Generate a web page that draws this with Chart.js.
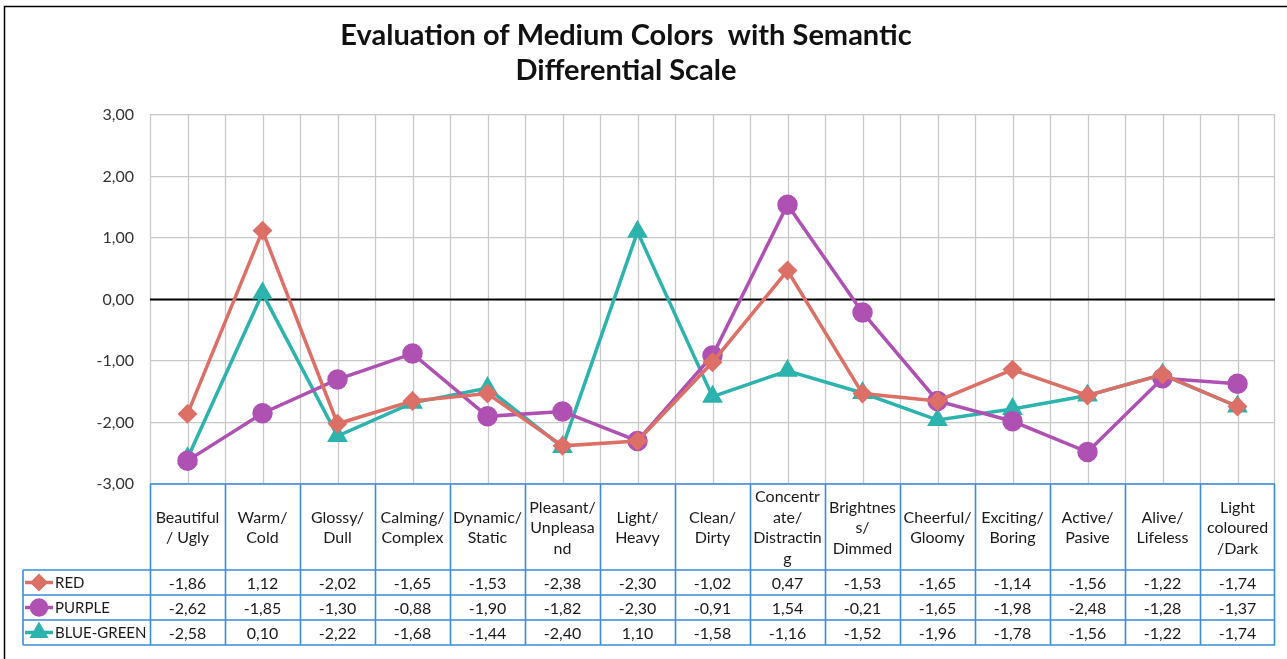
<!DOCTYPE html>
<html>
<head>
<meta charset="utf-8">
<script src="https://cdn.jsdelivr.net/npm/chart.js@4"></script>
<style>
  html, body { margin: 0; padding: 0; background: #fff; }
  #wrap { width: 1287px; height: 659px; position: relative; }
</style>
</head>
<body>
<div id="wrap"><canvas id="c" width="1287" height="659"></canvas></div>
<script>
// Semantic differential pairs (header lines as wrapped in the data table)
const categories = [
  ["Beautiful", "/ Ugly"],
  ["Warm/", "Cold"],
  ["Glossy/", "Dull"],
  ["Calming/", "Complex"],
  ["Dynamic/", "Static"],
  ["Pleasant/", "Unpleasa", "nd"],
  ["Light/", "Heavy"],
  ["Clean/", "Dirty"],
  ["Concentr", "ate/", "Distractin", "g"],
  ["Brightnes", "s/", "Dimmed"],
  ["Cheerful/", "Gloomy"],
  ["Exciting/", "Boring"],
  ["Active/", "Pasive"],
  ["Alive/", "Lifeless"],
  ["Light", "coloured", "/Dark"]
];

const seriesNames = ["RED", "PURPLE", "BLUE-GREEN"];
const redValues = [-1.86, 1.12, -2.02, -1.65, -1.53, -2.38, -2.30, -1.02, 0.47, -1.53, -1.65, -1.14, -1.56, -1.22, -1.74];
const purpleValues = [-2.62, -1.85, -1.30, -0.88, -1.90, -1.82, -2.30, -0.91, 1.54, -0.21, -1.65, -1.98, -2.48, -1.28, -1.37];
const blueGreenValues = [-2.58, 0.10, -2.22, -1.68, -1.44, -2.40, 1.10, -1.58, -1.16, -1.52, -1.96, -1.78, -1.56, -1.22, -1.74];

const yTicks = [-3, -2, -1, 0, 1, 2, 3];
const titleLines = ["Evaluation of Medium Colors  with Semantic", "Differential Scale"];

const seriesColors = ["#DC6F66", "#AF50B3", "#2DB3AD"];
const seriesMarkers = ["rectRot", "circle", "triangle"];
const seriesRadius = [7.5, 8.5, 8.5];

const FONT = "Lato, Calibri, 'Noto Sans', sans-serif";
const TABLE_BLUE = "#3D8CD6";

const fmt = v => v.toFixed(2).replace(".", ",");

const labels = categories.map(c => c.join(" "));
const valueSets = [redValues, purpleValues, blueGreenValues];

const datasets = valueSets.map((vals, i) => ({
  label: seriesNames[i],
  data: vals,
  borderColor: seriesColors[i],
  backgroundColor: seriesColors[i],
  pointBackgroundColor: seriesColors[i],
  pointBorderColor: seriesColors[i],
  pointStyle: seriesMarkers[i],
  pointRadius: seriesRadius[i],
  pointHoverRadius: seriesRadius[i],
  borderWidth: 3.5,
  tension: 0,
  fill: false
}));

// Frame, title, vertical grid and the zero line
const decorPlugin = {
  id: "decor",
  beforeDraw(chart) {
    const ctx = chart.ctx;
    ctx.save();
    ctx.fillStyle = "#fff";
    ctx.fillRect(0, 0, chart.width, chart.height);
    ctx.strokeStyle = "#000";
    ctx.lineWidth = 1.5;
    ctx.beginPath();
    ctx.moveTo(4.5, chart.height + 2);
    ctx.lineTo(4.5, 6.5);
    ctx.lineTo(chart.width + 2, 6.5);
    ctx.stroke();

    ctx.fillStyle = "#111";
    ctx.font = "bold 29px " + FONT;
    ctx.textAlign = "center";
    ctx.textBaseline = "middle";
    titleLines.forEach((t, i) => ctx.fillText(t, 626, 36 + i * 35));
    ctx.restore();
  },
  beforeDatasetsDraw(chart) {
    const ctx = chart.ctx;
    const x = chart.scales.x, y = chart.scales.y;
    const a = chart.chartArea;
    const half = (a.right - a.left) / categories.length / 2;
    ctx.save();
    ctx.strokeStyle = "#C8C8C8";
    ctx.lineWidth = 1.3;
    ctx.beginPath();
    categories.forEach((c, i) => {
      const cx = x.getPixelForValue(i);
      [cx - half, cx].forEach(px => {
        ctx.moveTo(Math.round(px) + 0.5, a.top);
        ctx.lineTo(Math.round(px) + 0.5, a.bottom);
      });
    });
    ctx.moveTo(Math.round(a.right) - 0.5, a.top);
    ctx.lineTo(Math.round(a.right) - 0.5, a.bottom);
    ctx.stroke();
    const zy = y.getPixelForValue(0);
    ctx.strokeStyle = "#000";
    ctx.lineWidth = 2;
    ctx.beginPath();
    ctx.moveTo(a.left, zy);
    ctx.lineTo(a.right, zy);
    ctx.stroke();
    ctx.restore();
  },
  afterDraw(chart) {
    const ctx = chart.ctx;
    const x = chart.scales.x;
    const a = chart.chartArea;
    const w = (a.right - a.left) / categories.length;
    const headTop = a.bottom, headBottom = 570;
    const rowH = 25;
    const legendLeft = 23;
    const rowTops = seriesNames.map((s, i) => headBottom + i * rowH);
    const tableBottom = headBottom + seriesNames.length * rowH;

    ctx.save();
    ctx.fillStyle = "#fff";
    ctx.fillRect(a.left, headTop + 1, a.right - a.left, tableBottom - headTop - 1);
    ctx.fillRect(legendLeft, headBottom, a.left - legendLeft, tableBottom - headBottom);

    // header text
    ctx.fillStyle = "#1a1a1a";
    ctx.font = "16px " + FONT;
    ctx.textAlign = "center";
    ctx.textBaseline = "middle";
    const lh = 20.5;
    categories.forEach((lines, i) => {
      const cx = x.getPixelForValue(i);
      const mid = (headTop + headBottom) / 2 + 1;
      const start = mid - (lines.length - 1) * lh / 2;
      lines.forEach((t, k) => ctx.fillText(t, cx, start + k * lh));
    });

    // values
    valueSets.forEach((vals, r) => {
      const cy = rowTops[r] + rowH / 2 + 1;
      vals.forEach((v, i) => ctx.fillText(fmt(v), x.getPixelForValue(i), cy));
    });

    // legend keys
    ctx.textAlign = "left";
    ctx.font = "15px " + FONT;
    seriesNames.forEach((name, r) => {
      const cy = rowTops[r] + rowH / 2;
      ctx.strokeStyle = seriesColors[r];
      ctx.lineWidth = 3.5;
      ctx.beginPath();
      ctx.moveTo(25, cy);
      ctx.lineTo(53, cy);
      ctx.stroke();
      Chart.helpers.drawPoint(ctx, {
        pointStyle: seriesMarkers[r],
        radius: seriesRadius[r] - 1,
        borderWidth: 1,
        rotation: 0
      }, 39, cy);
      ctx.fillStyle = seriesColors[r];
      ctx.fill();
      ctx.fillStyle = "#1a1a1a";
      ctx.fillText(name, 55, cy + 1);
    });

    // table borders
    ctx.strokeStyle = TABLE_BLUE;
    ctx.lineWidth = 1.6;
    ctx.beginPath();
    ctx.moveTo(a.left, headTop);
    ctx.lineTo(a.right, headTop);
    [headBottom, ...rowTops.slice(1), tableBottom].forEach(yy => {
      ctx.moveTo(legendLeft, yy);
      ctx.lineTo(a.right, yy);
    });
    for (let i = 0; i <= categories.length; i++) {
      const px = Math.round(a.left + i * w) + (i === categories.length ? -0.5 : 0.5);
      ctx.moveTo(px, headTop);
      ctx.lineTo(px, tableBottom);
    }
    ctx.moveTo(legendLeft, headBottom);
    ctx.lineTo(legendLeft, tableBottom);
    ctx.stroke();
    ctx.restore();
  }
};

new Chart(document.getElementById("c"), {
  type: "line",
  data: { labels, datasets },
  options: {
    responsive: false,
    animation: false,
    devicePixelRatio: 1,
    layout: { padding: { left: 0, top: 115, right: 11, bottom: 175 } },
    plugins: {
      legend: { display: false },
      title: { display: false },
      tooltip: { enabled: false }
    },
    scales: {
      x: {
        type: "category",
        offset: true,
        display: false
      },
      y: {
        min: -3,
        max: 3,
        afterBuildTicks(scale) { scale.ticks = yTicks.map(v => ({ value: v })); },
        afterFit(scale) { scale.width = 150; },
        border: { display: false },
        grid: {
          drawTicks: false,
          color: "#C8C8C8",
          lineWidth: 1.3
        },
        ticks: {
          padding: 16,
          color: "#333",
          font: { family: FONT, size: 16 },
          callback: v => fmt(v)
        }
      }
    }
  },
  plugins: [decorPlugin]
});
</script>
</body>
</html>
